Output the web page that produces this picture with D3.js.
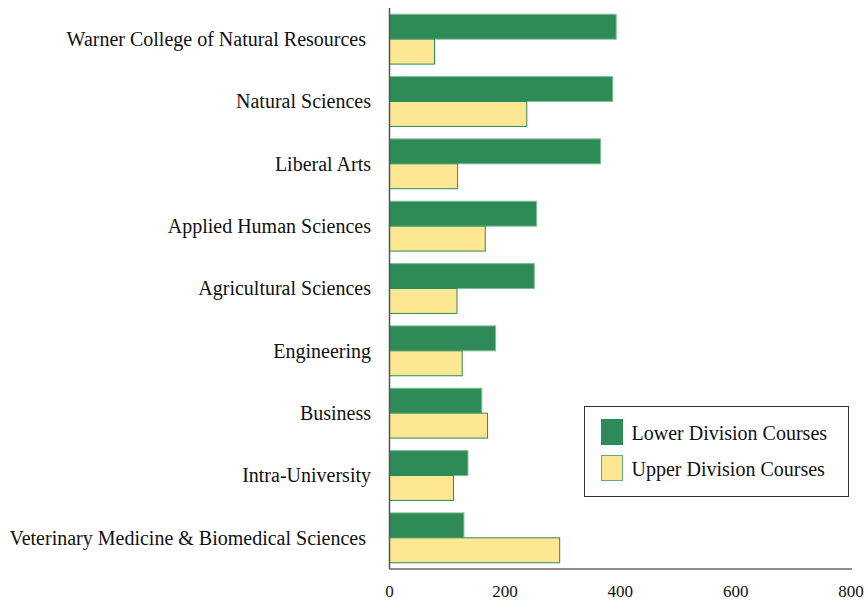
<!DOCTYPE html>
<html>
<head>
<meta charset="utf-8">
<script src="https://cdn.jsdelivr.net/npm/d3@7"></script>
<style>
  body { margin: 0; background: #fff; }
  svg text { font-family: "Liberation Serif", "DejaVu Serif", serif; fill: #111; white-space: pre; }
</style>
</head>
<body>
<div id="chart"></div>
<script>
// Course counts by college
const colleges = [
    'Warner College of Natural Resources ',
    'Natural Sciences',
    'Liberal Arts',
    'Applied Human Sciences',
    'Agricultural Sciences',
    'Engineering',
    'Business',
    'Intra-University',
    'Veterinary Medicine & Biomedical Sciences '
];
const lowerDivision = [393, 387, 366, 255, 251, 184, 160, 136, 129];
const upperDivision = [78, 238, 118, 166, 117, 126, 170, 111, 295];
const seriesNames = ['Lower Division Courses', 'Upper Division Courses'];
const xTicks = [0, 200, 400, 600, 800];

const colors = { lower: '#2e8b57', upper: '#fee793' };

const W = 867, H = 602;
const margin = { top: 8, right: 16, bottom: 33, left: 389.5 };

const svg = d3.select('#chart').append('svg')
    .attr('width', W)
    .attr('height', H);

const x = d3.scaleLinear()
    .domain([0, 800])
    .range([margin.left, W - margin.right]);

const y = d3.scaleBand()
    .domain(colleges)
    .range([margin.top, H - margin.bottom])
    .paddingInner(0.2)
    .paddingOuter(0.1);

const sub = d3.scaleBand()
    .domain(['lower', 'upper'])
    .range([0, y.bandwidth()]);

const rows = colleges.map((c, i) => ({ name: c, lower: lowerDivision[i], upper: upperDivision[i] }));

const groups = svg.selectAll('.row')
    .data(rows)
    .join('g')
    .attr('class', 'row')
    .attr('transform', d => `translate(0,${y(d.name)})`);

groups.selectAll('rect')
    .data(d => ['lower', 'upper'].map(k => ({ key: k, value: d[k] })))
    .join('rect')
    .attr('x', x(0))
    .attr('y', d => sub(d.key))
    .attr('width', d => x(d.value) - x(0))
    .attr('height', sub.bandwidth())
    .attr('fill', d => colors[d.key])
    .attr('stroke', d => d.key === 'upper' ? '#2e8b57' : '#7fbf97')
    .attr('stroke-width', 1);

// category labels
groups.append('text')
    .attr('x', 371)
    .attr('y', y.bandwidth() / 2)
    .attr('dy', '0.35em')
    .attr('text-anchor', 'end')
    .style('font-size', '20px')
    .text(d => d.name);

// axes (lines only, no tick marks)
svg.append('line')
    .attr('x1', x(0)).attr('x2', x(0))
    .attr('y1', margin.top).attr('y2', H - margin.bottom)
    .attr('stroke', '#555').attr('stroke-width', 1.5);

svg.append('line')
    .attr('x1', x(0)).attr('x2', x(800) + 1)
    .attr('y1', H - margin.bottom).attr('y2', H - margin.bottom)
    .attr('stroke', '#666').attr('stroke-width', 1.5);

svg.selectAll('.tick-label')
    .data(xTicks)
    .join('text')
    .attr('class', 'tick-label')
    .attr('x', d => x(d))
    .attr('y', 597)
    .attr('text-anchor', 'middle')
    .style('font-size', '17px')
    .text(d => d);

// legend
const legend = svg.append('g').attr('transform', 'translate(584.5,406.5)');
legend.append('rect')
    .attr('width', 264).attr('height', 90)
    .attr('fill', '#fff').attr('stroke', '#333').attr('stroke-width', 1);

const items = legend.selectAll('.item')
    .data(seriesNames)
    .join('g')
    .attr('class', 'item')
    .attr('transform', (d, i) => `translate(17,${13 + i * 36})`);

items.append('rect')
    .attr('width', 21).attr('height', 25)
    .attr('fill', (d, i) => i === 0 ? colors.lower : colors.upper)
    .attr('stroke', (d, i) => i === 0 ? '#2e8b57' : '#5fae7f');

items.append('text')
    .attr('x', 30)
    .attr('y', 13)
    .attr('dy', '0.35em')
    .style('font-size', '20px')
    .text(d => d);
</script>
</body>
</html>
